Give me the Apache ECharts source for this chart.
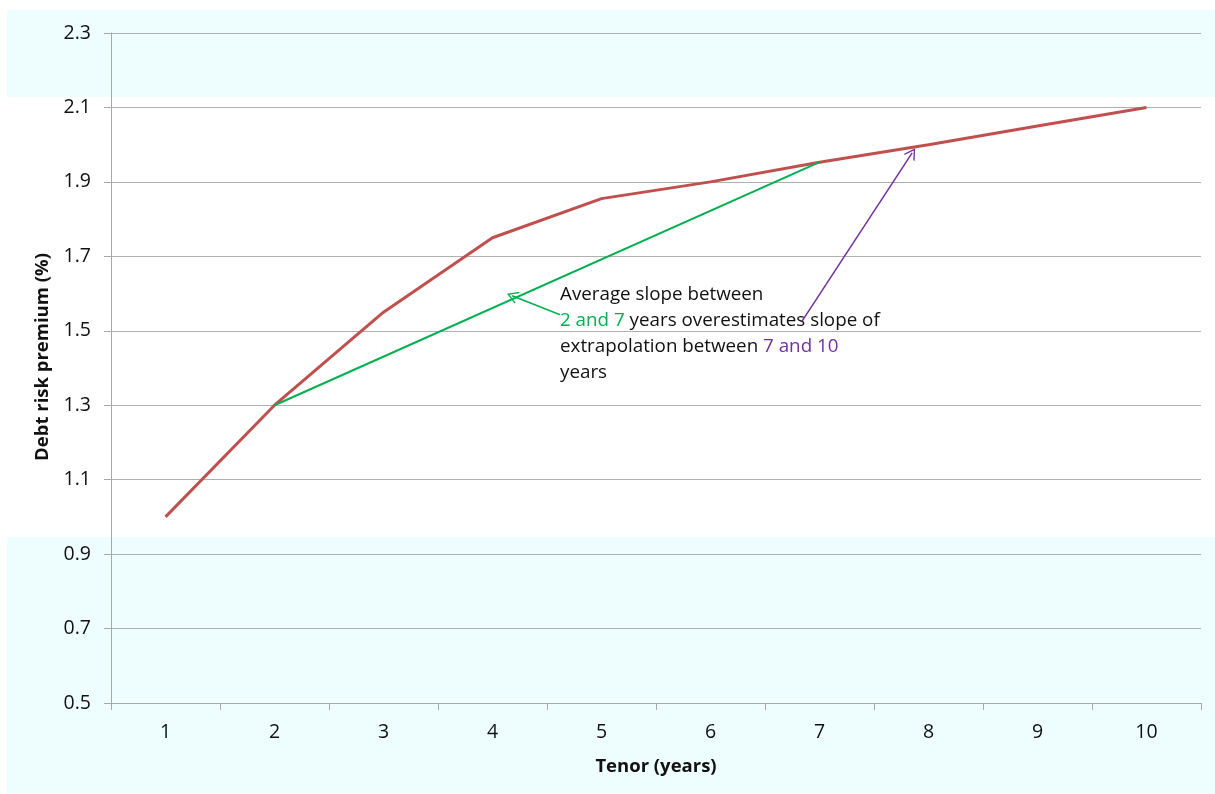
<!DOCTYPE html>
<html>
<head>
<meta charset="utf-8">
<script src="https://cdn.jsdelivr.net/npm/echarts@6/dist/echarts.min.js"></script>
<style>
  html, body { margin: 0; padding: 0; background: #ffffff; }
  #chart { width: 1215px; height: 794px; }
</style>
</head>
<body>
<div id="chart"></div>
<script>
// Tenor categories (years)
const tenors = ['1', '2', '3', '4', '5', '6', '7', '8', '9', '10'];
// Debt risk premium curve (%)
const premium = [1.0, 1.3, 1.55, 1.75, 1.855, 1.9, 1.953, 2.0, 2.05, 2.1];
// Straight line between the 2-year and 7-year points
const avgSlope = ['-', 1.3, '-', '-', '-', '-', 1.953, '-', '-', '-'];
// Y axis range
const yMin = 0.5, yMax = 2.3, yStep = 0.2;

// Annotation arrows in data units on the (hidden) numeric tenor axis
const greenArrow = [[4.62, 1.543], [4.18, 1.594]];
const purpleArrow = [[6.84, 1.526], [7.85, 1.978]];

const FONT = '"Open Sans", Lato, sans-serif';
// Open "V" arrow head, tip at the top
const OPEN_ARROW = 'path://M5,0 L10,10 L8.8,10 L5,2.4 L1.2,10 L0,10 Z';

const chart = echarts.init(document.getElementById('chart'));

const option = {
  backgroundColor: '#ffffff',
  animation: false,
  textStyle: { fontFamily: FONT },
  graphic: {
    elements: [
      { type: 'rect', z: -100, silent: true, shape: { x: 7, y: 10, width: 1208, height: 87 }, style: { fill: '#eefeff' } },
      { type: 'rect', z: -100, silent: true, shape: { x: 7, y: 537, width: 1208, height: 257 }, style: { fill: '#eefeff' } },
      {
        type: 'text', left: 560, top: 282, silent: true,
        style: {
          text: 'Average slope between\n{g|2 and 7} years overestimates slope of\nextrapolation between {p|7 and 10}\nyears',
          fontFamily: FONT, fontSize: 18.8, lineHeight: 26, fill: '#111111',
          rich: {
            g: { fill: '#00b050', fontFamily: FONT, fontSize: 18.8, lineHeight: 26 },
            p: { fill: '#7030a0', fontFamily: FONT, fontSize: 18.8, lineHeight: 26 }
          }
        }
      }
    ]
  },
  grid: { left: 111, right: 14, top: 33, bottom: 91, containLabel: false },
  xAxis: [
    {
      type: 'category',
      data: tenors,
      boundaryGap: true,
      name: 'Tenor (years)',
      nameLocation: 'middle',
      nameGap: 54,
      nameTextStyle: { fontFamily: FONT, fontSize: 18.5, fontWeight: 'bold', color: '#111' },
      axisLine: { lineStyle: { color: '#a8a8a8', width: 1 } },
      axisTick: { show: true, length: 7, alignWithLabel: false, lineStyle: { color: '#a8a8a8' } },
      axisLabel: { fontFamily: FONT, fontSize: 19.5, color: '#111', margin: 19 },
      splitLine: { show: false }
    },
    {
      type: 'value', min: 0.5, max: 10.5, show: false
    }
  ],
  yAxis: {
    type: 'value',
    min: yMin, max: yMax, interval: yStep,
    name: 'Debt risk premium (%)',
    nameLocation: 'middle',
    nameGap: 56,
    nameRotate: 90,
    nameTextStyle: { fontFamily: FONT, fontSize: 18.5, fontWeight: 'bold', color: '#111', padding: [0, 0, 0, 22] },
    axisLine: { show: true, lineStyle: { color: '#a8a8a8', width: 1 } },
    axisTick: { show: true, length: 7, lineStyle: { color: '#a8a8a8' } },
    axisLabel: {
      fontFamily: FONT, fontSize: 19.5, color: '#111', margin: 20,
      formatter: v => v.toFixed(1)
    },
    splitLine: { show: true, lineStyle: { color: '#b0b0b0', width: 1.2 } }
  },
  series: [
    {
      name: 'Premium',
      type: 'line',
      data: premium,
      xAxisIndex: 0,
      symbol: 'none',
      lineStyle: { color: '#c0504d', width: 3 },
      z: 3
    },
    {
      name: 'Average slope 2-7',
      type: 'line',
      data: avgSlope,
      xAxisIndex: 0,
      connectNulls: true,
      symbol: 'none',
      lineStyle: { color: '#00b050', width: 2 },
      z: 4
    },
    {
      name: 'Arrows',
      type: 'line',
      xAxisIndex: 1,
      data: [],
      silent: true,
      markLine: {
        silent: true,
        animation: false,
        symbol: ['none', OPEN_ARROW],
        symbolSize: [13, 11],
        label: { show: false },
        emphasis: { disabled: true },
        data: [
          [
            { coord: greenArrow[0], lineStyle: { color: '#00b050', width: 1.5, type: 'solid' } },
            { coord: greenArrow[1] }
          ],
          [
            { coord: purpleArrow[0], lineStyle: { color: '#7030a0', width: 1.5, type: 'solid' } },
            { coord: purpleArrow[1] }
          ]
        ]
      }
    }
  ]
};

chart.setOption(option);
</script>
</body>
</html>
